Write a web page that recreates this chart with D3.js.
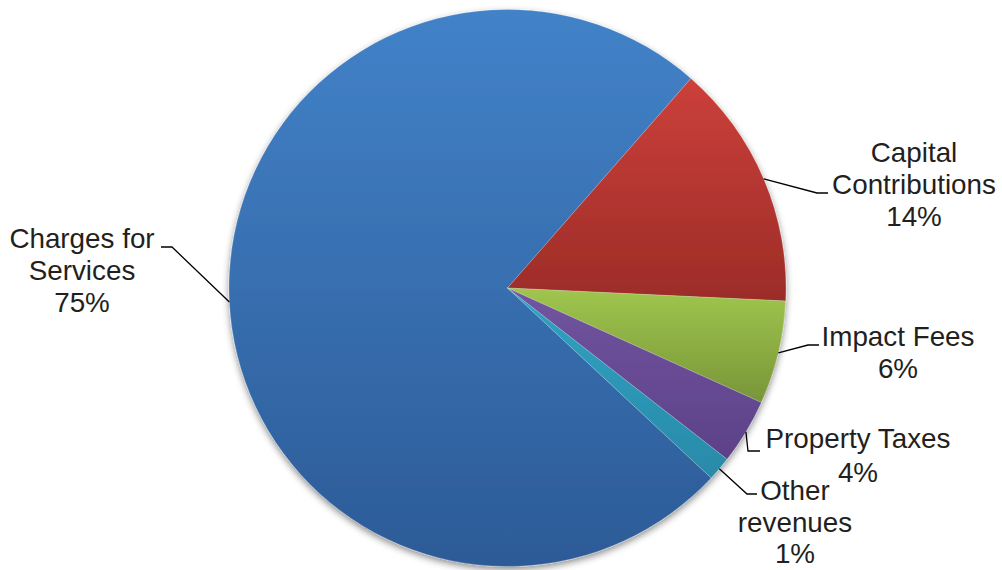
<!DOCTYPE html>
<html>
<head>
<meta charset="utf-8">
<script src="https://cdn.jsdelivr.net/npm/d3@7"></script>
<style>
  html, body { margin: 0; padding: 0; background: #ffffff; }
  svg { display: block; }
  text { font-family: "Liberation Sans", Arial, sans-serif; fill: #231f20; }
</style>
</head>
<body>
<svg id="chart" width="1002" height="570"></svg>
<script>
// ---- data ----
const categories = ["Charges for Services", "Capital Contributions", "Impact Fees", "Property Taxes", "Other revenues"];
const labelLines = [["Charges for", "Services"], ["Capital", "Contributions"], ["Impact Fees"], ["Property Taxes"], ["Other", "revenues"]];
const values = [74.5, 14.3, 6.0, 3.8, 1.4];
const percentLabels = ["75%", "14%", "6%", "4%", "1%"];

// ---- styles ----
const colorTop = ["#4282c8", "#cc403a", "#a0c64e", "#7255a0", "#2fa3c4"];
const colorBottom = ["#2c5b97", "#9c2c28", "#789538", "#5c4187", "#2a8aa8"];

// ---- layout ----
const W = 1002, H = 570;
const cx = 507.5, cy = 288, R = 278.5;
const startDeg = 133;
const fontSize = 27.8, lineGap = 32;
// label placement: centre x, first baseline, elbow point, end point of leader
const labelLayout = [
  { x: 82,  y: 248, elbow: [172, 247], end: [161, 247] },
  { x: 914, y: 162, elbow: [817, 193], end: [828, 193] },
  { x: 898, y: 346, elbow: [808, 345], end: [819, 345] },
  { x: 858, y: 448, elbow: [748, 451], end: [760, 451], gap: 33.5 },
  { x: 795, y: 500, elbow: [747, 494], end: [757, 494], gap: 31.5 }
];

const svg = d3.select("#chart");
const defs = svg.append("defs");

const filter = defs.append("filter").attr("id", "shadow")
  .attr("x", "-10%").attr("y", "-10%").attr("width", "120%").attr("height", "120%");
filter.append("feDropShadow").attr("dx", 0).attr("dy", 3).attr("stdDeviation", 3.5)
  .attr("flood-color", "#000").attr("flood-opacity", 0.45);

values.forEach((v, i) => {
  const g = defs.append("linearGradient").attr("id", "grad" + i)
    .attr("x1", 0).attr("y1", 0).attr("x2", 0).attr("y2", 1);
  g.append("stop").attr("offset", "0%").attr("stop-color", colorTop[i]);
  g.append("stop").attr("offset", "100%").attr("stop-color", colorBottom[i]);
});

const start = startDeg * Math.PI / 180;
const pie = d3.pie().sort(null).value(d => d).startAngle(start).endAngle(start + 2 * Math.PI);
const arcs = pie(values);
const arc = d3.arc().innerRadius(0).outerRadius(R);

const pieG = svg.append("g").attr("transform", `translate(${cx},${cy})`).attr("filter", "url(#shadow)");
pieG.selectAll("path").data(arcs).enter().append("path")
  .attr("d", arc)
  .attr("fill", (d, i) => `url(#grad${i})`)
  .attr("stroke", "rgba(255,255,255,0.35)")
  .attr("stroke-width", 0.6);

// leaders
const leaderG = svg.append("g");
arcs.forEach((d, i) => {
  const mid = (d.startAngle + d.endAngle) / 2;
  const p0 = [cx + R * Math.sin(mid), cy - R * Math.cos(mid)];
  const L = labelLayout[i];
  leaderG.append("path")
    .attr("d", d3.line()([p0, L.elbow, L.end]))
    .attr("fill", "none").attr("stroke", "#000").attr("stroke-width", 1.3);
});

// labels
const labelG = svg.append("g");
categories.forEach((c, i) => {
  const L = labelLayout[i];
  const gap = L.gap || lineGap;
  const lines = labelLines[i].concat([percentLabels[i]]);
  const t = labelG.append("text").attr("text-anchor", "middle").attr("font-size", fontSize);
  lines.forEach((ln, j) => {
    t.append("tspan").attr("x", L.x).attr("y", L.y + j * gap).text(ln);
  });
});
</script>
</body>
</html>
